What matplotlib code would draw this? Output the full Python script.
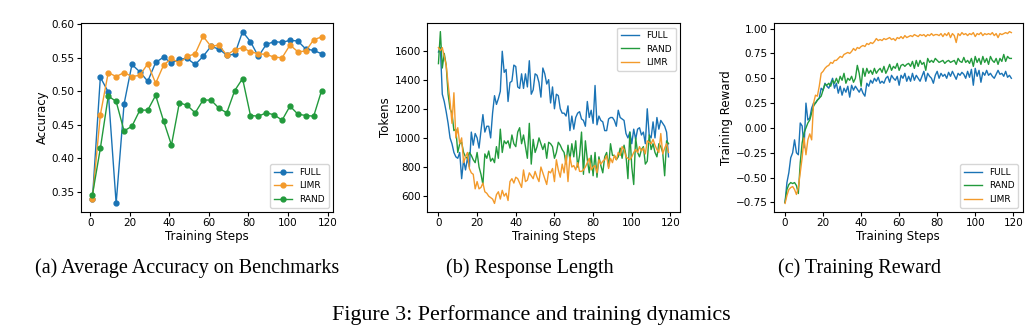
import matplotlib
matplotlib.use("Agg")
import matplotlib.pyplot as plt

# ----------------------------- data --------------------------------------- #

# (a) accuracy, evaluated every 4 steps
acc_steps = list(range(1, 118, 4))
acc_full = [0.340, 0.521, 0.499, 0.333, 0.481, 0.540, 0.529, 0.515, 0.543, 0.551,
            0.542, 0.548, 0.549, 0.540, 0.552, 0.567, 0.563, 0.554, 0.555, 0.589,
            0.574, 0.552, 0.570, 0.574, 0.573, 0.576, 0.575, 0.563, 0.561, 0.556]
acc_limr = [0.340, 0.465, 0.528, 0.522, 0.528, 0.522, 0.524, 0.541, 0.512, 0.539,
            0.549, 0.542, 0.552, 0.556, 0.582, 0.567, 0.569, 0.554, 0.562, 0.565,
            0.559, 0.556, 0.555, 0.551, 0.550, 0.569, 0.559, 0.560, 0.577, 0.581]
acc_rand = [0.346, 0.415, 0.493, 0.485, 0.441, 0.448, 0.472, 0.472, 0.494, 0.456,
            0.420, 0.483, 0.479, 0.468, 0.487, 0.487, 0.475, 0.468, 0.501, 0.519,
            0.464, 0.463, 0.468, 0.465, 0.457, 0.478, 0.466, 0.464, 0.463, 0.501]

# (b) response length, every step
steps = list(range(120))
len_full = [1590, 1620, 1300, 1250, 1180, 1100, 1000, 960, 900, 870,
            860, 900, 720, 850, 780, 860, 800, 1040, 950, 1030,
            1000, 930, 1050, 1160, 1040, 1080, 1080, 1000, 1170, 1290,
            1230, 1270, 1320, 1595, 1450, 1470, 1250, 1380, 1390, 1500,
            1490, 1350, 1340, 1440, 1340, 1440, 1350, 1530, 1300, 1330,
            1440, 1430, 1380, 1280, 1480, 1440, 1370, 1400, 1240, 1350,
            1200, 1300, 1290, 1200, 1170, 1170, 1150, 1220, 1050, 1150,
            1060, 1140, 1170, 1180, 1130, 1120, 1080, 1250, 1140, 1190,
            1100, 1360, 1090, 1150, 1120, 1110, 1050, 1050, 1130, 1140,
            1140, 1120, 1080, 1190, 1140, 1130, 1120, 1030, 1000, 1040,
            960, 1060, 990, 1060, 1070, 1020, 1040, 960, 1200, 1020,
            1000, 1110, 1000, 1140, 1060, 1120, 1100, 1080, 1040, 870]
len_rand = [1510, 1730, 1480, 1580, 1500, 1300, 1200, 1170, 1050, 1060,
            900, 960, 970, 900, 870, 860, 900, 880, 850, 830,
            900, 800, 750, 680, 890, 860, 910, 840, 860, 830,
            940, 860, 1060, 900, 980, 960, 980, 930, 1020, 960,
            940, 1040, 1070, 960, 1020, 940, 860, 1100, 820, 990,
            900, 940, 1000, 960, 920, 960, 860, 970, 960, 940,
            860, 900, 970, 950, 920, 900, 820, 950, 850, 960,
            870, 980, 800, 880, 1040, 750, 980, 850, 760, 880,
            740, 900, 730, 870, 810, 760, 870, 900, 800, 960,
            880, 880, 850, 870, 930, 860, 950, 880, 720, 1040,
            800, 680, 1000, 900, 870, 920, 940, 820, 840, 1020,
            920, 960, 900, 870, 960, 940, 900, 740, 980, 960]
len_limr = [1620, 1600, 1620, 1560, 1500, 1370, 1250, 1100, 1310, 1000,
            1070, 960, 1000, 830, 870, 900, 790, 760, 750, 650,
            700, 650, 660, 690, 630, 620, 600, 590, 580, 550,
            610, 630, 580, 640, 600, 620, 570, 700, 720, 690,
            730, 720, 690, 660, 780, 700, 710, 760, 740, 720,
            770, 730, 700, 800, 760, 720, 680, 770, 760, 790,
            700, 850, 780, 730, 820, 760, 880, 700, 870, 800,
            810, 780, 830, 770, 770, 780, 800, 830, 860, 780,
            800, 810, 760, 850, 820, 840, 850, 880, 790, 860,
            830, 880, 850, 900, 880, 940, 920, 870, 860, 850,
            870, 900, 920, 900, 940, 910, 930, 890, 980, 970,
            960, 990, 950, 920, 900, 1030, 890, 930, 960, 900]

# (c) training reward, every step
rew_full = [-0.75, -0.55, -0.45, -0.30, -0.25, -0.12, -0.25, -0.27, 0.05, 0.02,
            -0.20, 0.25, 0.08, 0.10, 0.20, 0.25, 0.25, 0.28, 0.30, 0.40,
            0.38, 0.45, 0.42, 0.40, 0.45, 0.50, 0.40, 0.45, 0.35, 0.42,
            0.33, 0.40, 0.36, 0.42, 0.31, 0.43, 0.38, 0.42, 0.39, 0.36,
            0.40, 0.35, 0.32, 0.45, 0.42, 0.48, 0.45, 0.50, 0.47, 0.51,
            0.45, 0.47, 0.45, 0.50, 0.52, 0.46, 0.53, 0.50, 0.48, 0.52,
            0.43, 0.53, 0.50, 0.55, 0.47, 0.52, 0.47, 0.55, 0.48, 0.53,
            0.50, 0.47, 0.52, 0.57, 0.47, 0.55, 0.52, 0.50, 0.45, 0.53,
            0.57, 0.50, 0.55, 0.52, 0.54, 0.50, 0.56, 0.52, 0.57, 0.53,
            0.49, 0.55, 0.53, 0.56, 0.54, 0.50, 0.57, 0.51, 0.59, 0.43,
            0.60, 0.52, 0.58, 0.46, 0.56, 0.53, 0.58, 0.53, 0.55, 0.52,
            0.50, 0.54, 0.58, 0.54, 0.55, 0.52, 0.57, 0.51, 0.53, 0.50]
rew_rand = [-0.75, -0.62, -0.57, -0.55, -0.56, -0.55, -0.58, -0.66, -0.35, -0.15,
            -0.05, 0.00, 0.05, 0.08, 0.15, 0.22, 0.25, 0.28, 0.30, 0.32,
            0.38, 0.44, 0.43, 0.45, 0.42, 0.48, 0.45, 0.50, 0.45, 0.52,
            0.48, 0.55, 0.45, 0.50, 0.48, 0.52, 0.46, 0.50, 0.63, 0.55,
            0.42, 0.60, 0.52, 0.60, 0.55, 0.58, 0.54, 0.60, 0.55, 0.58,
            0.60, 0.56, 0.62, 0.55, 0.59, 0.64, 0.58, 0.62, 0.60, 0.65,
            0.58, 0.63, 0.64, 0.62, 0.64, 0.65, 0.62, 0.67, 0.60, 0.68,
            0.62, 0.68, 0.64, 0.66, 0.58, 0.70, 0.66, 0.68, 0.66, 0.70,
            0.68, 0.66, 0.67, 0.68, 0.65, 0.67, 0.68, 0.66, 0.67, 0.68,
            0.64, 0.70, 0.67, 0.66, 0.71, 0.66, 0.68, 0.65, 0.70, 0.62,
            0.72, 0.66, 0.70, 0.64, 0.72, 0.66, 0.70, 0.64, 0.72, 0.68,
            0.66, 0.70, 0.64, 0.70, 0.67, 0.74, 0.67, 0.72, 0.70, 0.70]
rew_limr = [-0.76, -0.68, -0.62, -0.60, -0.59, -0.62, -0.67, -0.60, -0.45, -0.30,
            -0.10, -0.27, -0.12, -0.06, -0.12, 0.25, 0.33, 0.32, 0.42, 0.55,
            0.57, 0.60, 0.62, 0.63, 0.66, 0.65, 0.68, 0.68, 0.70, 0.72,
            0.71, 0.74, 0.75, 0.76, 0.75, 0.77, 0.80, 0.78, 0.81, 0.80,
            0.82, 0.83, 0.82, 0.85, 0.84, 0.86, 0.85, 0.87, 0.90, 0.88,
            0.89, 0.88, 0.90, 0.89, 0.90, 0.91, 0.89, 0.90, 0.88, 0.91,
            0.90, 0.92, 0.90, 0.93, 0.91, 0.92, 0.93, 0.92, 0.94, 0.93,
            0.92, 0.94, 0.93, 0.94, 0.92, 0.94, 0.93, 0.95, 0.93, 0.94,
            0.94, 0.93, 0.95, 0.92, 0.95, 0.93, 0.96, 0.91, 0.95, 0.93,
            0.86, 0.95, 0.93, 0.96, 0.94, 0.95, 0.93, 0.95, 0.94, 0.96,
            0.92, 0.95, 0.94, 0.96, 0.93, 0.95, 0.94, 0.95, 0.94, 0.96,
            0.93, 0.95, 0.91, 0.95, 0.94, 0.95, 0.96, 0.95, 0.97, 0.96]

captions = ["(a) Average Accuracy on Benchmarks", "(b) Response Length", "(c) Training Reward"]
fig_caption = "Figure 3: Performance and training dynamics"

BLUE, ORANGE, GREEN = "#1a73b5", "#f39a2b", "#229a3c"

# ----------------------------- plot --------------------------------------- #

plt.rcParams["font.family"] = "DejaVu Sans"
plt.rcParams["xtick.labelsize"] = 7.5
plt.rcParams["ytick.labelsize"] = 7.5
plt.rcParams["axes.labelsize"] = 8.5
plt.rcParams["legend.fontsize"] = 6.5

fig = plt.figure(figsize=(10.33, 3.36), dpi=100)
bottom, height = 0.369, 0.5625
ax_a = fig.add_axes([0.0784, bottom, 0.244, height])
ax_b = fig.add_axes([0.4133, bottom, 0.245, height])
ax_c = fig.add_axes([0.749, bottom, 0.241, height])

mk = dict(marker="o", markersize=3.5, linewidth=1.0)
ax_a.plot(acc_steps, acc_full, color=BLUE, label="FULL", **mk)
ax_a.plot(acc_steps, acc_limr, color=ORANGE, label="LIMR", **mk)
ax_a.plot(acc_steps, acc_rand, color=GREEN, label="RAND", **mk)
ax_a.set_ylabel("Accuracy", labelpad=2)
ax_a.legend(loc="lower right")

ax_b.plot(steps, len_full, color=BLUE, linewidth=1.0, label="FULL")
ax_b.plot(steps, len_rand, color=GREEN, linewidth=1.0, label="RAND")
ax_b.plot(steps, len_limr, color=ORANGE, linewidth=1.0, label="LIMR")
ax_b.set_ylabel("Tokens", labelpad=2)
ax_b.legend(loc="upper right")

ax_c.plot(steps, rew_full, color=BLUE, linewidth=1.0, label="FULL")
ax_c.plot(steps, rew_rand, color=GREEN, linewidth=1.0, label="RAND")
ax_c.plot(steps, rew_limr, color=ORANGE, linewidth=1.0, label="LIMR")
ax_c.set_ylabel("Training Reward", labelpad=2)
ax_c.legend(loc="lower right")

for ax in (ax_a, ax_b, ax_c):
    ax.set_xlabel("Training Steps", labelpad=1)
    ax.set_xticks([0, 20, 40, 60, 80, 100, 120])
    ax.tick_params(length=3, pad=1.5)

serif = dict(family="Liberation Serif", ha="center", va="center")
for xc, txt in zip([187, 530, 860], captions):
    fig.text(xc / 1033, 1 - 268 / 336, txt, fontsize=14.5, **serif)
fig.text(531 / 1033, 1 - 315 / 336, fig_caption, fontsize=15.8, **serif)

fig.savefig("out.png", dpi=100)
